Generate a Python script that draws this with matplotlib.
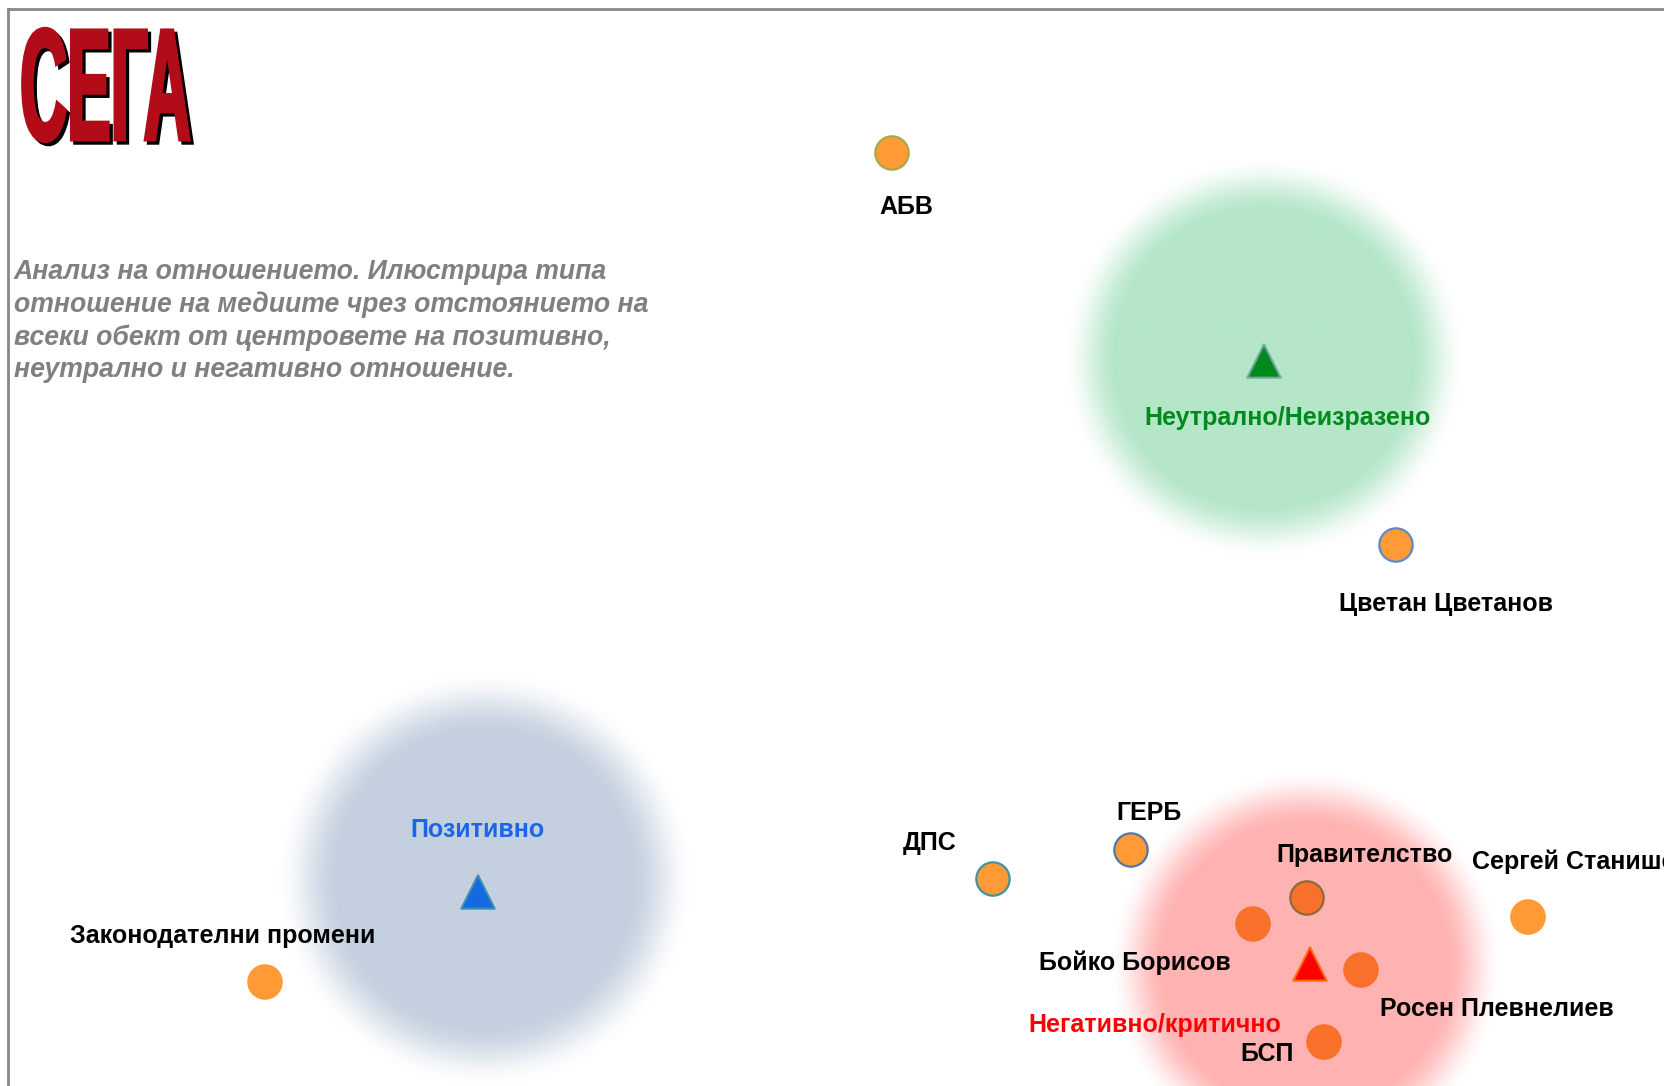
import numpy as np
import matplotlib
matplotlib.use("Agg")
import matplotlib.pyplot as plt
import matplotlib.colors as mcolors
from matplotlib.patheffects import AbstractPathEffect
from matplotlib.transforms import Affine2D

plt.rcParams['font.family'] = ['Liberation Sans', 'DejaVu Sans']

# ---------------- data ----------------
objects = ["АБВ", "Цветан Цветанов", "ДПС", "ГЕРБ", "Правителство",
           "Бойко Борисов", "Росен Плевнелиев", "БСП", "Сергей Станишев",
           "Законодателни промени"]
obj_x = [892, 1396, 993, 1131, 1307, 1253, 1361, 1324, 1528, 265]
obj_y = [153, 545, 879, 850, 898, 924, 970, 1042, 917, 982]

centers = ["Позитивно", "Неутрално/Неизразено", "Негативно/критично"]
center_x = [478, 1264, 1310]
center_y = [892, 361, 964]

title_logo = "СЕГА"
description = ("Анализ на отношението. Илюстрира типа\n"
               "отношение на медиите чрез отстоянието на\n"
               "всеки обект от центровете на позитивно,\n"
               "неутрално и негативно отношение.")

# ---------------- styles / layout ----------------
obj_face = ["#FF9A36", "#FF9A36", "#FF9A36", "#FF9A36", "#F8702A",
            "#F8702A", "#F8702A", "#F8702A", "#FF9A36", "#FF9A36"]
obj_edge = ["#A8A848", "#5A8CCB", "#3F93A3", "#4F78A6", "#8C6A3E",
            "#F8702A", "#F8702A", "#F8702A", "#FF9A36", "#FF9A36"]
obj_label_off = [(14, 54), (50, 59), (-63, -36), (18, -37), (58, -43),
                 (-118, 39), (136, 39), (-57, 12), (-56, -55), (-42, -46)]
obj_label_ha = ["center"] * 8 + ["left", "center"]

center_face = ["#1469E0", "#008A1E", "#FF0000"]
center_edge = ["#3C8FB0", "#6FA89C", "#FF6A10"]
center_text = ["#1A66E6", "#008A1E", "#FF0000"]
center_label_off = [(0, -62), (24, 57), (-155, 61)]
glow_rgb = [(196, 208, 223), (180, 230, 200), (255, 178, 178)]
glow_off = [(7, -13), (0, -3), (-4, 2)]
glow_r_in = [145, 145, 140]
glow_r_out = [210, 202, 198]


class Stretch(AbstractPathEffect):
    """Draw the text path stretched (logo lettering), optionally thickened."""
    def __init__(self, sx=1.0, sy=1.0, offset=(0, 0), color=None, lw=0.0):
        super().__init__(offset)
        self.sx, self.sy, self.color, self.lw = sx, sy, color, lw

    def draw_path(self, renderer, gc, tpath, affine, rgbFace=None):
        gc0 = renderer.new_gc()
        gc0.copy_properties(gc)
        face = rgbFace
        if self.color is not None:
            face = mcolors.to_rgba(self.color)
            gc0.set_foreground(self.color)
        gc0.set_linewidth(self.lw)
        gc0.set_joinstyle("miter")
        aff = Affine2D().scale(self.sx, self.sy) + affine + self._offset_transform(renderer)
        renderer.draw_path(gc0, tpath, aff, face)
        gc0.restore()


W, H = 1665, 1086
fig = plt.figure(figsize=(W / 100, H / 100), dpi=100)
fig.patch.set_facecolor("white")
ax = fig.add_axes([8 / W, 0, 1 - 8 / W, 1 - 9 / H])
ax.set_facecolor("white")
for s in ("right", "bottom"):
    ax.spines[s].set_visible(False)
for s in ("left", "top"):
    ax.spines[s].set_color("#888888")
    ax.spines[s].set_linewidth(2.0)
ax.set_xticks([])
ax.set_yticks([])

# glows around the category centres
n = 300
for cx, cy, (gx, gy), rgb, rin, rout in zip(center_x, center_y, glow_off, glow_rgb,
                                             glow_r_in, glow_r_out):
    cx, cy = cx + gx, cy + gy
    g = np.linspace(-rout, rout, n)
    X, Y = np.meshgrid(g, g)
    r = np.hypot(X, Y)
    t = np.clip((rout - r) / (rout - rin), 0, 1)
    a = t * t * (3 - 2 * t)
    img = np.zeros((n, n, 4))
    img[..., 0] = rgb[0] / 255
    img[..., 1] = rgb[1] / 255
    img[..., 2] = rgb[2] / 255
    img[..., 3] = a
    ax.imshow(img, extent=(cx - rout, cx + rout, cy + rout, cy - rout),
              interpolation="bilinear", zorder=1)

# objects
ax.scatter(obj_x, obj_y, s=24 ** 2, c=obj_face,
           edgecolors=obj_edge, linewidths=1.6, zorder=3)
for name, x, y, (dx, dy), ha in zip(objects, obj_x, obj_y, obj_label_off, obj_label_ha):
    ax.text(x + dx, y + dy, name, ha=ha, va="center", fontsize=18,
            fontweight="bold", color="black", zorder=4, clip_on=False)

# category centres
ax.scatter(center_x, center_y, s=24 ** 2, marker="^", c=center_face,
           edgecolors=center_edge, linewidths=1.5, zorder=3)
for name, x, y, (dx, dy), col in zip(centers, center_x, center_y, center_label_off, center_text):
    ax.text(x + dx, y + dy, name, ha="center", va="center", fontsize=18,
            fontweight="bold", color=col, zorder=4)

# logo
logo = ax.text(20, 140, title_logo, ha="left", va="baseline", fontsize=47,
               fontweight="bold", color="#B20C18", zorder=5)
logo.set_path_effects([Stretch(1.0, 2.45, offset=(2.3, -2.3), color="black", lw=2.2),
                       Stretch(1.0, 2.45, color="#B20C18", lw=2.2)])

# description
ax.text(14, 259, description, ha="left", va="top", fontsize=19.2,
        fontstyle="italic", fontweight="bold", color="#808080",
        linespacing=1.31, zorder=5)

ax.set_aspect("auto")
ax.set_xlim(8, W)
ax.set_ylim(H, 9)

fig.savefig("out.png", dpi=100)
